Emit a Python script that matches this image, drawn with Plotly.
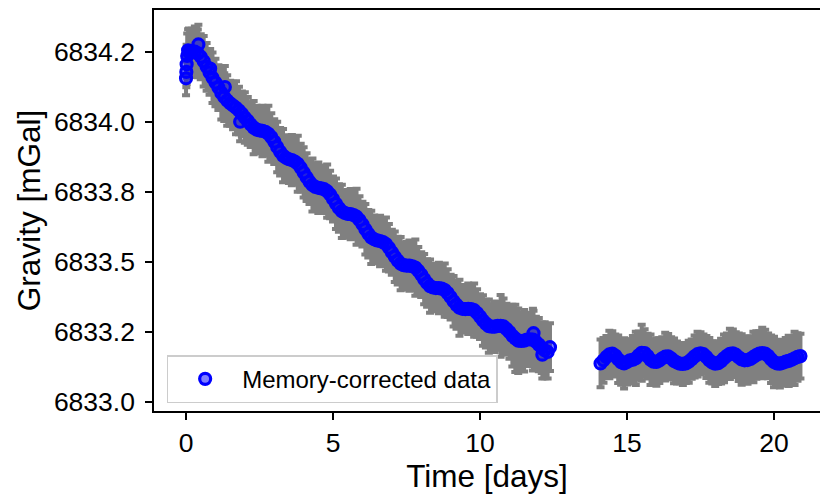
import plotly.graph_objects as go

# ---- Segment 1 (days 0 - 12.4) ----
t1 = [0.00, 0.01, 0.02, 0.04, 0.07, 0.10, 0.20, 0.30, 0.40, 0.42,
      0.50, 0.60, 0.70, 0.80, 0.82, 0.90, 1.00, 1.10, 1.20, 1.30,
      1.32, 1.40, 1.50, 1.60, 1.70, 1.80, 1.84, 1.90, 2.00, 2.10,
      2.20, 2.30, 2.40, 2.50, 2.60, 2.70, 2.80, 2.90, 3.00, 3.10,
      3.20, 3.30, 3.40, 3.50, 3.60, 3.70, 3.80, 3.90, 4.00, 4.10,
      4.20, 4.30, 4.40, 4.50, 4.60, 4.70, 4.80, 4.90, 5.00, 5.10,
      5.20, 5.30, 5.40, 5.50, 5.60, 5.70, 5.80, 5.90, 6.00, 6.10,
      6.20, 6.30, 6.40, 6.50, 6.60, 6.70, 6.80, 6.90, 7.00, 7.10,
      7.20, 7.30, 7.40, 7.50, 7.60, 7.70, 7.80, 7.90, 8.00, 8.10,
      8.20, 8.30, 8.40, 8.50, 8.60, 8.70, 8.80, 8.90, 9.00, 9.10,
      9.20, 9.30, 9.40, 9.50, 9.60, 9.70, 9.80, 9.90, 10.00, 10.10,
      10.20, 10.30, 10.40, 10.50, 10.60, 10.70, 10.80, 10.90, 11.00, 11.10,
      11.20, 11.30, 11.40, 11.50, 11.60, 11.70, 11.80, 11.82, 11.90, 12.00,
      12.10, 12.12, 12.20, 12.30, 12.38]
g1 = [6834.155, 6834.178, 6834.205, 6834.235, 6834.255, 6834.248, 6834.252, 6834.250, 6834.244, 6834.276,
      6834.232, 6834.216, 6834.196, 6834.176, 6834.190, 6834.157, 6834.140, 6834.122, 6834.103, 6834.088,
      6834.124, 6834.076, 6834.066, 6834.058, 6834.050, 6834.040, 6834.000, 6834.028, 6834.015, 6834.003,
      6833.990, 6833.979, 6833.972, 6833.969, 6833.967, 6833.964, 6833.957, 6833.945, 6833.929, 6833.910,
      6833.893, 6833.879, 6833.871, 6833.866, 6833.863, 6833.858, 6833.850, 6833.836, 6833.819, 6833.802,
      6833.786, 6833.774, 6833.767, 6833.764, 6833.762, 6833.759, 6833.752, 6833.740, 6833.724, 6833.707,
      6833.692, 6833.680, 6833.674, 6833.671, 6833.670, 6833.667, 6833.661, 6833.649, 6833.634, 6833.616,
      6833.600, 6833.587, 6833.580, 6833.576, 6833.574, 6833.570, 6833.563, 6833.550, 6833.534, 6833.518,
      6833.504, 6833.493, 6833.488, 6833.486, 6833.486, 6833.484, 6833.479, 6833.468, 6833.454, 6833.438,
      6833.424, 6833.413, 6833.408, 6833.406, 6833.406, 6833.404, 6833.399, 6833.388, 6833.374, 6833.359,
      6833.346, 6833.336, 6833.332, 6833.331, 6833.332, 6833.331, 6833.327, 6833.317, 6833.304, 6833.290,
      6833.279, 6833.270, 6833.268, 6833.268, 6833.271, 6833.271, 6833.269, 6833.260, 6833.249, 6833.236,
      6833.226, 6833.218, 6833.217, 6833.218, 6833.222, 6833.223, 6833.222, 6833.245, 6833.214, 6833.204,
      6833.193, 6833.168, 6833.184, 6833.178, 6833.195]
e1 = [0.060, 0.055, 0.070, 0.080, 0.075, 0.085, 0.080, 0.090, 0.085, 0.070,
      0.080, 0.090, 0.085, 0.080, 0.070, 0.090, 0.085, 0.080, 0.095, 0.085,
      0.075, 0.090, 0.080, 0.085, 0.095, 0.085, 0.070, 0.080, 0.090, 0.085,
      0.080, 0.095, 0.085, 0.080, 0.090, 0.085, 0.100, 0.085, 0.080, 0.090,
      0.085, 0.095, 0.080, 0.085, 0.090, 0.080, 0.100, 0.085, 0.090, 0.085,
      0.080, 0.095, 0.085, 0.090, 0.080, 0.085, 0.095, 0.085, 0.080, 0.090,
      0.085, 0.095, 0.080, 0.085, 0.090, 0.085, 0.100, 0.085, 0.080, 0.090,
      0.085, 0.095, 0.085, 0.080, 0.090, 0.085, 0.095, 0.085, 0.080, 0.090,
      0.085, 0.095, 0.080, 0.085, 0.090, 0.085, 0.100, 0.085, 0.080, 0.090,
      0.085, 0.095, 0.085, 0.080, 0.090, 0.085, 0.095, 0.085, 0.080, 0.090,
      0.085, 0.100, 0.085, 0.080, 0.090, 0.085, 0.095, 0.085, 0.080, 0.090,
      0.085, 0.095, 0.080, 0.090, 0.085, 0.110, 0.100, 0.090, 0.095, 0.110,
      0.120, 0.115, 0.100, 0.110, 0.090, 0.095, 0.110, 0.080, 0.090, 0.095,
      0.090, 0.085, 0.100, 0.095, 0.085]

# ---- Segment 2 (days 14.1 - 20.9) ----
t2 = [14.1, 14.2, 14.3, 14.4, 14.5, 14.6, 14.7, 14.8, 14.9, 15.0,
      15.1, 15.2, 15.3, 15.4, 15.5, 15.6, 15.7, 15.8, 15.9, 16.0,
      16.1, 16.2, 16.3, 16.4, 16.5, 16.6, 16.7, 16.8, 16.9, 17.0,
      17.1, 17.2, 17.3, 17.4, 17.5, 17.6, 17.7, 17.8, 17.9, 18.0,
      18.1, 18.2, 18.3, 18.4, 18.5, 18.6, 18.7, 18.8, 18.9, 19.0,
      19.1, 19.2, 19.3, 19.4, 19.5, 19.6, 19.7, 19.8, 19.9, 20.0,
      20.1, 20.2, 20.3, 20.4, 20.5, 20.6, 20.7, 20.8, 20.9]
g2 = [6833.137, 6833.148, 6833.160, 6833.169, 6833.172, 6833.165, 6833.152, 6833.141, 6833.137, 6833.142,
      6833.148, 6833.150, 6833.155, 6833.166, 6833.175, 6833.174, 6833.163, 6833.150, 6833.143, 6833.142,
      6833.147, 6833.155, 6833.161, 6833.162, 6833.155, 6833.146, 6833.140, 6833.136, 6833.135, 6833.137,
      6833.143, 6833.152, 6833.162, 6833.170, 6833.173, 6833.170, 6833.160, 6833.148, 6833.140, 6833.136,
      6833.138, 6833.145, 6833.155, 6833.164, 6833.171, 6833.173, 6833.168, 6833.159, 6833.151, 6833.148,
      6833.149, 6833.153, 6833.160, 6833.167, 6833.172, 6833.174, 6833.172, 6833.164, 6833.152, 6833.142,
      6833.137, 6833.136, 6833.139, 6833.143, 6833.146, 6833.150, 6833.155, 6833.160, 6833.163]
e2 = [0.085, 0.080, 0.075, 0.085, 0.080, 0.075, 0.085, 0.080, 0.090, 0.080,
      0.075, 0.085, 0.095, 0.085, 0.100, 0.085, 0.080, 0.090, 0.080, 0.085,
      0.080, 0.075, 0.085, 0.080, 0.075, 0.080, 0.075, 0.070, 0.075, 0.070,
      0.075, 0.070, 0.075, 0.080, 0.075, 0.070, 0.075, 0.080, 0.075, 0.080,
      0.075, 0.080, 0.085, 0.080, 0.090, 0.085, 0.080, 0.085, 0.090, 0.080,
      0.085, 0.080, 0.090, 0.085, 0.080, 0.090, 0.085, 0.080, 0.085, 0.090,
      0.080, 0.085, 0.080, 0.085, 0.090, 0.085, 0.095, 0.085, 0.080]

y_tickvals = [6833.0, 6833.25, 6833.5, 6833.75, 6834.0, 6834.25]
y_ticktext = ["6833.0", "6833.2", "6833.5", "6833.8", "6834.0", "6834.2"]
x_tickvals = [0, 5, 10, 15, 20]

FONT = "Liberation Sans, Arial, sans-serif"

fig = go.Figure()
fig.add_trace(go.Scatter(
    x=t1 + t2, y=g1 + g2, mode="markers", name="Memory-corrected data",
    marker=dict(symbol="circle", size=11, color="rgba(0,0,255,0.5)",
                line=dict(color="#0000ff", width=3.2)),
    error_y=dict(type="data", array=e1 + e2, visible=True,
                 color="rgb(128,128,128)", thickness=4, width=4),
))

fig.update_layout(
    width=820, height=495,
    margin=dict(l=154, r=0, t=10, b=84),
    plot_bgcolor="white", paper_bgcolor="white",
    font=dict(family=FONT, color="black"),
    showlegend=True,
    legend=dict(x=0.019, y=0.139, xanchor="left", yanchor="top",
                itemwidth=64,
                bgcolor="rgba(255,255,255,0.85)", bordercolor="#cccccc",
                borderwidth=1.5, font=dict(size=24, family=FONT, color="black")),
)
fig.update_xaxes(
    range=[-1.09, 21.565], tickvals=x_tickvals, ticks="outside", ticklen=7,
    tickwidth=1.5, tickcolor="black", showline=True, linecolor="black",
    linewidth=1.5, mirror=True, showgrid=False, zeroline=False,
    tickfont=dict(size=26.5, family=FONT, color="black"),
    title=dict(text="Time [days]", font=dict(size=31.5, family=FONT, color="black"), standoff=5),
)
fig.update_yaxes(
    range=[6832.967, 6834.399], tickvals=y_tickvals, ticktext=y_ticktext,
    ticks="outside", ticklen=7, tickwidth=1.5, tickcolor="black",
    ticklabelstandoff=5,
    showline=True, linecolor="black", linewidth=1.5, mirror=False,
    showgrid=False, zeroline=False,
    tickfont=dict(size=26.5, family=FONT, color="black"),
    title=dict(text="Gravity [mGal]", font=dict(size=31.5, family=FONT, color="black"), standoff=4),
)

fig.write_html("out.html")
